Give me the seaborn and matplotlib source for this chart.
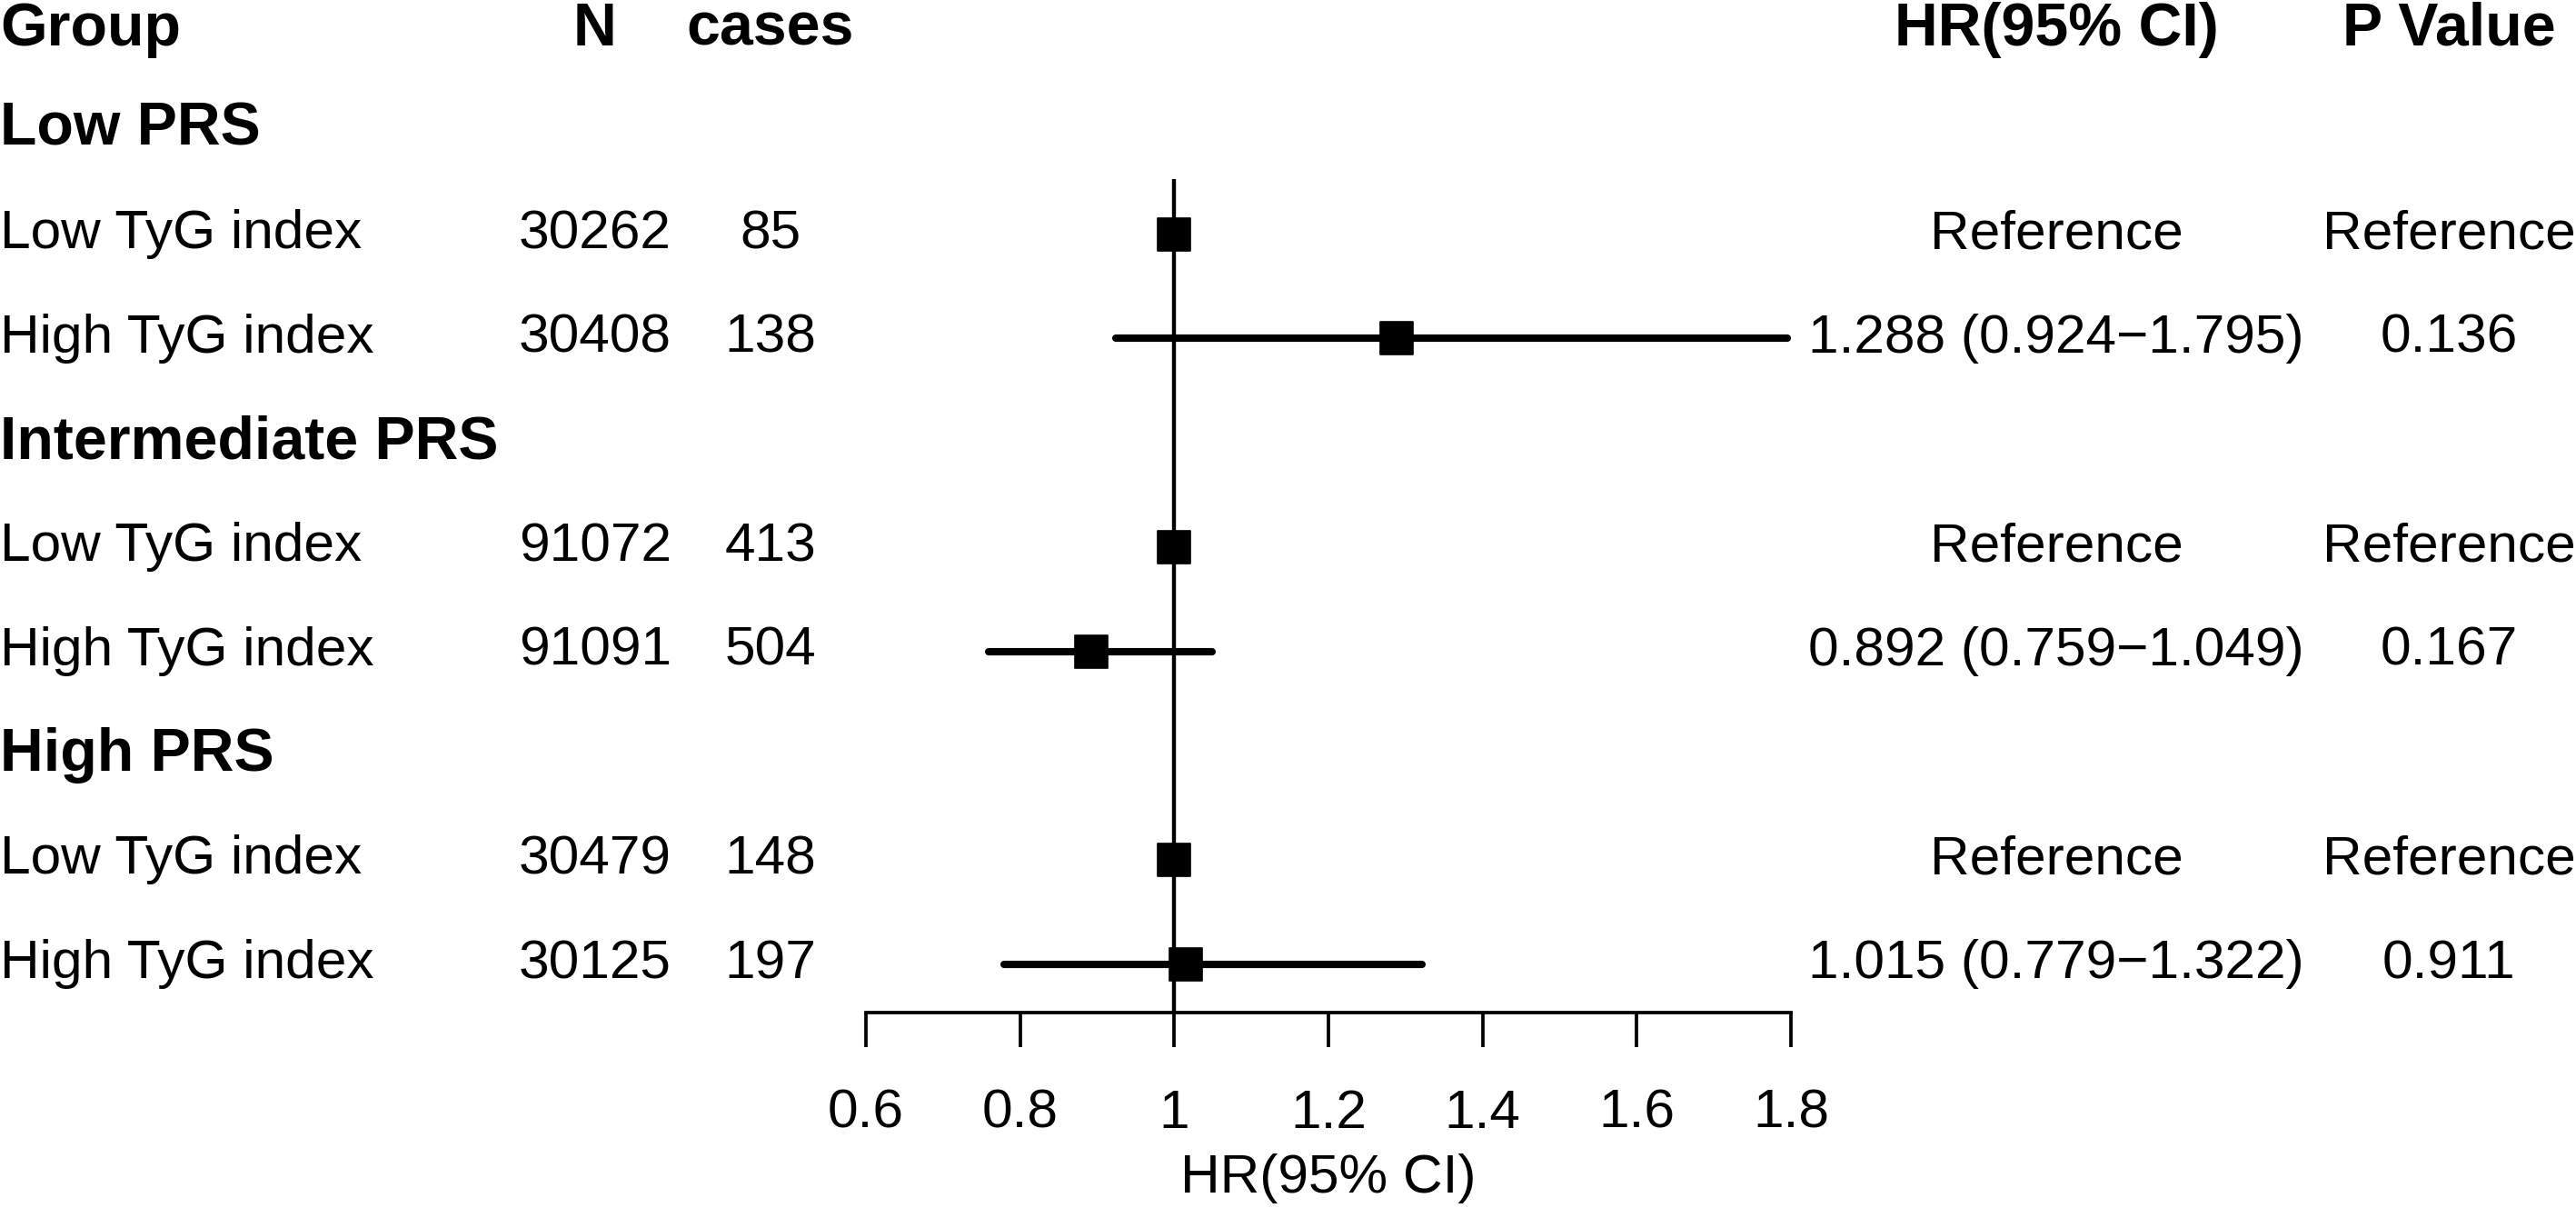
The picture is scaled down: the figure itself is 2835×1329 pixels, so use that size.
import numpy as np
import pandas as pd
import matplotlib
matplotlib.use("Agg")
import matplotlib.pyplot as plt
import matplotlib.transforms as mtransforms
import seaborn as sns

# data
groups = ["Low PRS", "Intermediate PRS", "High PRS"]
subgroups = ["Low TyG index", "High TyG index"]
n_total = [30262, 30408, 91072, 91091, 30479, 30125]
cases = [85, 138, 413, 504, 148, 197]
hr = [1.0, 1.288, 1.0, 0.892, 1.0, 1.015]
ci_low = [np.nan, 0.924, np.nan, 0.759, np.nan, 0.779]
ci_high = [np.nan, 1.795, np.nan, 1.049, np.nan, 1.322]
p_values = ["Reference", "0.136", "Reference", "0.167", "Reference", "0.911"]
x_ticks = [0.6, 0.8, 1.0, 1.2, 1.4, 1.6, 1.8]
headers = ["Group", "N", "cases", "HR(95% CI)", "P Value"]

sns.set_theme(style="white")
plt.rcParams["font.family"] = ["Liberation Sans", "DejaVu Sans"]
plt.rcParams["text.color"] = "black"
plt.rcParams["xtick.color"] = "black"
plt.rcParams["axes.labelcolor"] = "black"

# one row per group title, then the two subgroup rows
records = []
row = 1
for gi, g in enumerate(groups):
    records.append(dict(row=row, label=g, kind="group"))
    row += 1
    for si, s in enumerate(subgroups):
        i = gi * 2 + si
        is_ref = np.isnan(ci_low[i])
        hr_txt = "Reference" if is_ref else f"{hr[i]:.3f} ({ci_low[i]:.3f}\u2212{ci_high[i]:.3f})"
        records.append(dict(row=row, label=s, kind="item", n=n_total[i], cases=cases[i],
                            hr=hr[i], lo=ci_low[i], hi=ci_high[i], hr_txt=hr_txt, p=p_values[i]))
        row += 1
df = pd.DataFrame(records)
items = df[df["kind"] == "item"]

# layout (pixels of the 2835x1329 output)
W, H, DPI = 2835, 1329, 300
ax_left_px, ax_right_px = 953, 1971
first_row_px, row_h = 143, 114.7
px_per = (ax_right_px - ax_left_px) / (x_ticks[-1] - x_ticks[0])

def row_at(px):
    return 1 + (px - first_row_px) / row_h

fig = plt.figure(figsize=(W / DPI, H / DPI), dpi=DPI)
ax = fig.add_axes([0, 0, 1, 1])

axis_row = row_at(1114)
ax.vlines(1, row_at(197), axis_row, color="black", lw=1.05, zorder=1)
ci = ax.hlines(items["row"], items["lo"], items["hi"], color="black", lw=1.95, zorder=2)
ci.set_capstyle("round")
sns.scatterplot(data=items, x="hr", y="row", marker="s", s=8.6 ** 2, color="black",
                edgecolor="black", linewidth=0.4, legend=False, ax=ax, zorder=3)

ax.set_xlim(x_ticks[0] - ax_left_px / px_per, x_ticks[0] + (W - ax_left_px) / px_per)
ax.set_ylim(row_at(H), row_at(0))

for side in ["top", "left", "right"]:
    ax.spines[side].set_visible(False)
ax.spines["bottom"].set_position(("data", axis_row))
ax.spines["bottom"].set_bounds(x_ticks[0], x_ticks[-1])
ax.spines["bottom"].set_linewidth(0.9)
ax.spines["bottom"].set_color("black")
ax.set_xticks(x_ticks, labels=[f"{t:g}" for t in x_ticks])
ax.set_yticks([])
ax.tick_params(axis="x", direction="out", length=9.1, width=0.9, color="black",
               labelcolor="black", pad=11, labelsize=14.5, bottom=True)
ax.set_ylabel("")
ax.set_xlabel("")

tr = mtransforms.blended_transform_factory(fig.transFigure, ax.transData)
col_x = {"label": 0.0, "n": 655 / W, "cases": 848 / W, "hr": 2263 / W, "p": 2695 / W}
fs, fs_b = 14.5, 15.9

# x axis title, centred under the scale
ax.text((x_ticks[0] + x_ticks[-1]) / 2, row_at(1297), "HR(95% CI)", ha="center", va="center",
        fontsize=fs, color="black")

head_row = row_at(33)
ax.text(col_x["label"], head_row, headers[0], transform=tr, ha="left", va="center", fontsize=fs_b, weight="bold")
ax.text(col_x["n"], head_row, headers[1], transform=tr, ha="center", va="center", fontsize=fs_b, weight="bold")
ax.text(col_x["cases"], head_row, headers[2], transform=tr, ha="center", va="center", fontsize=fs_b, weight="bold")
ax.text(col_x["hr"], head_row, headers[3], transform=tr, ha="center", va="center", fontsize=fs_b, weight="bold")
ax.text(col_x["p"], head_row, headers[4], transform=tr, ha="center", va="center", fontsize=fs_b, weight="bold")

for _, r in df.iterrows():
    if r["kind"] == "group":
        ax.text(col_x["label"], r["row"], r["label"], transform=tr, ha="left", va="center",
                fontsize=fs_b, weight="bold")
        continue
    ax.text(col_x["label"], r["row"], r["label"], transform=tr, ha="left", va="center", fontsize=fs)
    ax.text(col_x["n"], r["row"], str(int(r["n"])), transform=tr, ha="center", va="center", fontsize=fs)
    ax.text(col_x["cases"], r["row"], str(int(r["cases"])), transform=tr, ha="center", va="center", fontsize=fs)
    ax.text(col_x["hr"], r["row"], r["hr_txt"], transform=tr, ha="center", va="center", fontsize=fs)
    ax.text(col_x["p"], r["row"], r["p"], transform=tr, ha="center", va="center", fontsize=fs)

fig.savefig("out.png", dpi=DPI, facecolor="white")
